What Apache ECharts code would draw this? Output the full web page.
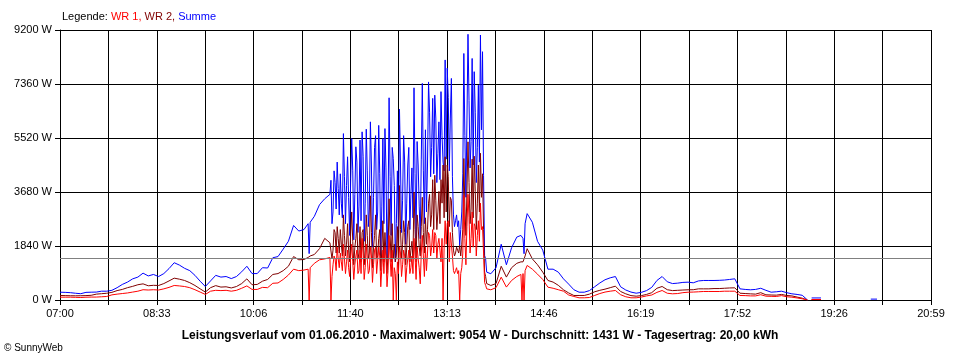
<!DOCTYPE html>
<html>
<head>
<meta charset="utf-8">
<script src="https://cdn.jsdelivr.net/npm/echarts@6/dist/echarts.min.js"></script>
<style>html,body{margin:0;padding:0;background:#fff}#c{width:960px;height:360px}</style>
</head>
<body>
<div id="c"></div>
<script>
// Tick labels of the time axis (07:00 .. 20:59, 9 equal steps)
const tickLabels = ['07:00','08:33','10:06','11:40','13:13','14:46','16:19','17:52','19:26','20:59'];
const yTicks = [0, 1840, 3680, 5520, 7360, 9200];
const average = 1431;

// sample times in minutes after 07:00
const mins = [
  0,5,10,15,20,25,30,35,40,45,50,55,60,65,70,75,80,85,90,95,100,105,110,115,120,125,130,135,140,145,150,155,160,165,170,175,180,185,190,195,200,205,210,215,220,225,230,235,
  239,240,241,245,250,255,260,
  261,262,263,264,265,266,267,268,269,270,
  271,272,273,274,275,276,277,278,279,280,
  281,282,283,284,285,286,287,288,289,290,
  291,292,293,294,295,296,297,298,299,300,
  301,302,303,304,305,306,307,308,309,310,
  311,312,313,314,315,316,317,318,319,320,
  321,322,323,324,325,326,327,328,329,330,
  331,332,333,334,335,336,337,338,339,340,
  341,342,343,344,345,346,347,348,349,350,
  351,352,353,354,355,356,357,358,359,360,
  361,362,363,364,365,366,367,368,369,370,
  371,372,373,374,375,376,377,378,379,380,
  381,382,383,384,385,386,387,388,389,390,
  391,392,393,394,395,396,397,398,399,400,
  401,402,403,404,405,406,407,408,409,410,
  411,
  415,420,425,430,435,440,444,445,446,447,448,450,
  455,460,465,470,475,480,485,490,495,500,505,510,515,520,525,530,535,540,545,550,555,560,565,570,575,580,585,590,595,600,605,610,615,620,625,630,635,640,645,650,655,660,665,670,675,680,685,690,695,700,705,710,715,720,
  722,724,733,735,779,781,787,789
];

// Summe (W)
const summe = [
  266,260,250,230,215,260,266,270,300,300,330,420,530,610,720,780,915,820,870,800,900,1070,1270,1190,1080,1000,840,640,460,650,840,780,800,730,800,960,1150,900,900,1100,1090,1440,1480,1734,2000,2540,2350,2400,
  2600,1580,2650,2850,3250,3450,3600,
  4080,2600,3000,4400,4000,3100,4700,3800,2900,4300,
  3300,2800,5670,4200,2600,3900,4880,3500,2200,4100,
  5500,4400,2050,3600,5220,4700,2300,3200,5450,2700,
  5730,4900,2000,3300,5820,4400,2500,3100,6070,4600,
  1800,3500,5200,5600,2400,3000,5950,4300,1500,3200,
  5500,2600,5840,4500,1400,3000,6890,4200,2200,5200,
  4820,3900,1300,2600,4400,2400,6500,4600,2300,3400,
  5600,4700,1900,3300,4600,5200,2400,3600,4500,2800,
  7230,4300,2100,5400,4600,3200,2090,4800,7380,4400,
  2600,5800,3000,4600,7430,6400,4200,5200,6870,4300,
  6980,6200,4000,5000,6070,4100,7100,5600,4700,4400,
  8180,4800,7900,6900,4400,6200,7550,4200,2900,2500,
  2700,2900,2500,2700,1860,2400,3000,4300,8400,5600,
  3500,6100,9054,6800,4500,5400,8230,4600,7780,6400,
  4000,5200,7320,4700,9030,5800,8460,4250,1520,1400,
  950,
  894,1100,1900,1200,1780,2144,2200,2150,2100,1577,2600,2943,
  2650,2000,1700,1050,1050,950,720,540,350,266,
  266,320,450,580,690,756,800,450,340,270,
  232,260,320,430,665,800,620,560,574,600,
  608,586,650,665,665,665,670,680,700,722,
  380,360,348,360,400,330,266,280,300,250,
  211,190,160,0,
  null,70,70,null,null,30,30,null
];

// WR 2 (W)
const wr2 = [
  154,150,145,143,145,150,160,200,215,230,260,320,360,420,465,520,550,485,500,495,560,650,744,710,665,590,495,380,270,420,490,440,450,410,460,560,720,520,530,640,700,870,900,1000,1150,1480,1370,1380,
  1450,1480,1500,1550,1750,2100,1950,
  2000,1400,1700,2400,2300,1600,2500,2100,1600,2400,
  1900,1500,2900,2200,1500,1900,2600,1700,1300,2300,
  3000,2000,1200,1800,2100,2600,1400,1600,2500,1300,
  2300,2400,1200,1700,2900,2200,1400,1600,3550,2300,
  1100,1800,2200,2900,1400,1500,2100,2400,1000,1700,
  2700,1300,2300,2300,900,1600,3450,2200,1300,2600,
  1400,1900,1300,1500,2500,1300,3900,2400,1400,1900,
  2700,2300,1200,1800,2500,2700,1300,1700,2000,1400,
  3680,2400,1300,2900,2500,1800,1500,2500,3500,2300,
  1600,2800,1900,2400,3300,3600,2500,2900,4100,2400,
  4250,3400,2400,3000,3700,2600,4100,3300,4600,2800,
  4880,3000,4600,4200,2500,3500,3400,2300,1700,1500,
  1600,1800,1700,1600,1860,1500,1900,2400,4820,3200,
  2200,3700,5390,4000,2600,3100,4800,2800,4900,3700,
  2400,3300,4600,3000,5000,3500,4300,2400,950,800,
  560,
  495,560,1150,780,1100,1250,1300,1300,1300,1400,1500,1748,
  1400,1200,950,665,610,500,348,240,154,154,
  154,200,280,330,370,420,471,290,210,150,
  130,150,190,250,400,461,350,320,330,340,
  348,350,380,380,380,390,390,400,410,415,
  232,220,210,200,250,177,170,165,190,154,
  140,100,61,0,
  null,17,17,null,null,null,null,null
];

// WR 1 (W)
const wr1 = [
  96,96,96,90,85,95,100,100,110,120,175,200,220,240,270,300,350,340,350,340,380,430,495,480,460,420,350,270,190,300,330,320,330,300,330,400,480,360,360,430,420,570,580,700,850,1050,1000,1020,
  1050,0,1100,1250,1370,1400,1450,
  0,800,1200,1500,1400,1000,1800,1400,1100,1600,
  1300,1000,1900,1400,900,1300,1700,1100,800,1500,
  1900,1300,700,1200,1500,1700,900,1000,1700,900,
  2100,1600,700,1100,1900,1400,900,1000,1800,1500,
  600,1200,1700,1800,900,900,1800,1500,450,1100,
  1700,900,1800,1500,450,1000,2200,1400,800,1700,
  0,1100,900,0,1300,900,1800,1600,800,1200,
  1700,1500,600,1100,1400,1700,900,1100,1500,900,
  2100,1500,700,1800,1400,1100,550,1600,2200,1500,
  800,1800,1000,1600,2300,2200,1500,1800,2400,1600,
  2300,2200,1400,1900,2100,1700,1300,2100,0,1800,
  2700,1900,2600,2700,1300,2300,2300,1500,1000,900,
  1000,1100,900,1000,0,900,1100,1600,3570,2100,
  1200,2500,3600,2800,1600,2100,3000,1800,2600,2500,
  1500,2200,2700,2000,3300,2400,2500,1600,600,500,
  380,
  348,420,778,440,665,800,870,0,900,0,1000,1178,
  1050,880,700,437,400,350,300,170,120,75,
  75,85,154,220,270,300,324,180,110,75,
  75,100,140,170,260,324,230,211,220,250,
  266,270,280,290,290,290,290,300,300,300,
  154,150,140,140,180,130,125,120,150,110,
  96,70,40,0,
  null,17,17,null,null,null,null,null
];

const SPAN = 839;
const pairs = arr => mins.map((t, i) => [t, arr[i]]);
const chart = echarts.init(document.getElementById('c'), null, {renderer: 'canvas'});
const FONT = "'Liberation Sans', Arial, sans-serif";

chart.setOption({
  animation: false,
  backgroundColor: '#ffffff',
  textStyle: {fontFamily: FONT},
  title: [
    {
      text: '{k|Legende: }{a|WR 1, }{b|WR 2, }{c|Summe}',
      left: 62, top: 11, padding: 0,
      textStyle: {
        fontSize: 11, fontWeight: 'normal',
        rich: {
          k: {color: '#000000', fontSize: 11, fontFamily: FONT},
          a: {color: '#ff0000', fontSize: 11, fontFamily: FONT},
          b: {color: '#800000', fontSize: 11, fontFamily: FONT},
          c: {color: '#0000ff', fontSize: 11, fontFamily: FONT}
        }
      }
    },
    {
      text: 'Leistungsverlauf vom 01.06.2010 - Maximalwert: 9054 W - Durchschnitt: 1431 W - Tagesertrag: 20,00 kWh',
      left: 'center', top: 330, padding: 0,
      textStyle: {fontSize: 12, fontWeight: 'bold', color: '#000', fontFamily: FONT}
    },
    {
      text: '© SunnyWeb',
      left: 4, top: 343, padding: 0,
      textStyle: {fontSize: 10, fontWeight: 'normal', color: '#000', fontFamily: FONT}
    }
  ],
  grid: {left: 60, right: 29, top: 30, bottom: 60, containLabel: false},
  xAxis: {
    type: 'value', min: 0, max: SPAN, interval: SPAN / 18,
    axisLine: {show: true, lineStyle: {color: '#000', width: 1}},
    axisTick: {show: true, length: 5, lineStyle: {color: '#000', width: 1}},
    splitLine: {show: true, lineStyle: {color: '#000', width: 1}},
    axisLabel: {
      color: '#000', fontSize: 11, margin: 8, fontFamily: FONT,
      showMinLabel: true, showMaxLabel: true,
      formatter: v => {
        const r = v / (SPAN / 9);
        const i = Math.round(r);
        return Math.abs(r - i) < 0.02 ? tickLabels[i] : '';
      }
    }
  },
  yAxis: {
    type: 'value', min: yTicks[0], max: yTicks[yTicks.length - 1], interval: yTicks[1] - yTicks[0],
    axisLine: {show: true, lineStyle: {color: '#000', width: 1}},
    axisTick: {show: true, length: 5, lineStyle: {color: '#000', width: 1}},
    splitLine: {show: true, lineStyle: {color: '#000', width: 1}},
    axisLabel: {color: '#000', fontSize: 11, margin: 8, fontFamily: FONT, formatter: v => Math.round(v) + ' W'}
  },
  series: [
    {name: 'Summe', type: 'line', data: pairs(summe), showSymbol: false, symbol: 'none', z: 2,
     lineStyle: {color: '#0000ff', width: 1}, itemStyle: {color: '#0000ff'}, connectNulls: false},
    {name: 'WR 2', type: 'line', data: pairs(wr2), showSymbol: false, symbol: 'none', z: 3,
     lineStyle: {color: '#800000', width: 1}, itemStyle: {color: '#800000'}, connectNulls: false},
    {name: 'WR 1', type: 'line', data: pairs(wr1), showSymbol: false, symbol: 'none', z: 4,
     lineStyle: {color: '#ff0000', width: 1}, itemStyle: {color: '#ff0000'}, connectNulls: false},
    {name: 'Durchschnitt', type: 'line', data: [], z: 5,
     markLine: {silent: true, symbol: ['none', 'none'], label: {show: false},
       lineStyle: {color: '#808080', width: 1, type: 'solid'},
       data: [{yAxis: average}]}}
  ]
});
</script>
</body>
</html>
